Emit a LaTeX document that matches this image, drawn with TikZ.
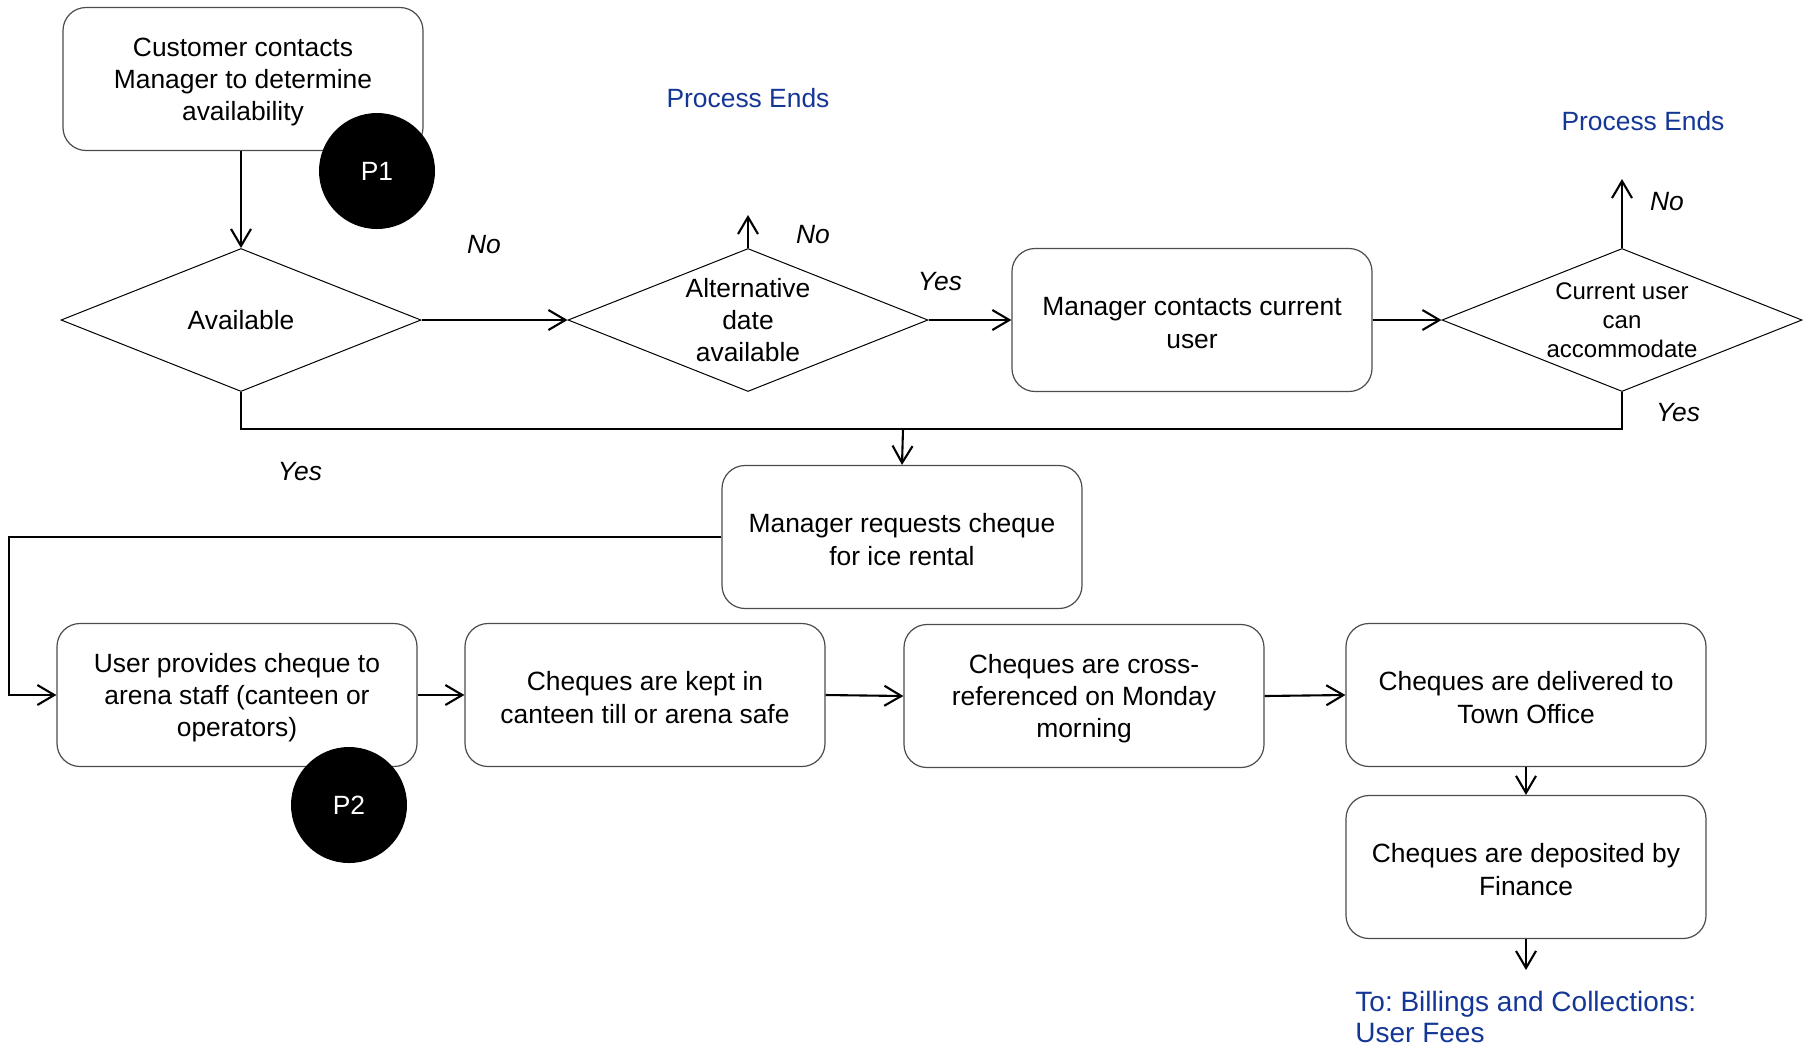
\documentclass[tikz,border=0pt]{standalone}
\usepackage{fontspec}
\setmainfont{Liberation Sans}
\usetikzlibrary{shapes.geometric,arrows.meta}
\definecolor{pblue}{RGB}{20,55,150}
\newcommand\fst{\rule{0pt}{12.3pt}}
\frenchspacing
\begin{document}
\begin{tikzpicture}[x=0.5pt,y=-0.5pt,
 proc/.style={draw=black!70,line width=0.6pt,rounded corners=11.5pt,minimum width=180pt,minimum height=71.5pt,align=center,font=\fontsize{13.2}{16.2}\selectfont,inner sep=0pt},
 dia/.style={draw,diamond,line width=0.5pt,minimum width=180pt,minimum height=71.5pt,inner sep=0pt},
 diatext/.style={align=center,font=\fontsize{13.2}{16}\selectfont},
 pin/.style={circle,fill=black,text=white,minimum size=58pt,inner sep=0pt,font=\fontsize{13.2}{16}\selectfont},
 arr/.style={line width=1.05pt,-{Straight Barb[length=8.5pt,width=10pt]}},
 con/.style={line width=1.05pt},
 lbl/.style={font=\fontsize{13.2}{16}\selectfont\itshape},
 endtxt/.style={text=pblue,font=\fontsize{13.2}{16}\selectfont}]
\useasboundingbox (0,0) rectangle (1810,1046);

% top row
\node[proc] (b1) at (243,79) {\fst Customer contacts\\Manager to determine\\availability};
\node[pin] (p1) at (377,171) {P1};
\node[dia] (d1) at (241,320) {};
\node[diatext] (t1) at (d1) {Available};
\node[dia] (d2) at (748,320) {};
\node[diatext] (t2) at (d2) {Alternative\\date\\available};
\node[proc] (b2) at (1192,320) {\fst Manager contacts current\\user};
\node[dia] (d3) at (1622,320) {};
\node[diatext,font=\fontsize{12}{14.5}\selectfont] (t3) at (d3) {Current user\\can\\accommodate};

\node[endtxt] (pe1) at (748,98) {Process Ends};
\node[endtxt] (pe2) at (1643,121) {Process Ends};
\coordinate (e1) at (748,215);
\coordinate (e2) at (1622,179);

% middle
\node[proc] (b3) at (902,537) {\fst Manager requests cheque\\for ice rental};
\coordinate (j) at (903,429);
\coordinate (c) at (9,537);

% bottom row
\node[proc] (b4) at (237,695) {\fst User provides cheque to\\arena staff (canteen or\\operators)};
\node[pin] (p2) at (349,805) {P2};
\node[proc] (b5) at (645,695) {\fst Cheques are kept in\\canteen till or arena safe};
\node[proc] (b6) at (1084,696) {\fst Cheques are cross-\\referenced on Monday\\morning};
\node[proc] (b7) at (1526,695) {\fst Cheques are delivered to\\Town Office};
\node[proc] (b8) at (1526,867) {\fst Cheques are deposited by\\Finance};
\coordinate (e3) at (1526,970);
\node[endtxt,anchor=west,align=left,font=\fontsize{14}{15.8}\selectfont,inner xsep=0pt] (to) at (1355,1017) {To: Billings and Collections:\\User Fees};

% labels
\node[lbl] (n1) at (484,245) {No};
\node[lbl] (n2) at (813,235) {No};
\node[lbl] (y1) at (940,282) {Yes};
\node[lbl] (n3) at (1667,202) {No};
\node[lbl] (y2) at (1678,413) {Yes};
\node[lbl] (y3) at (300,472) {Yes};

% connectors
\draw[arr] (d1.north |- b1.south) -- (d1.north);
\draw[arr] (d1.east) -- (d2.west);
\draw[arr] (d2.north) -- (e1);
\draw[arr] (d2.east) -- (b2.west);
\draw[arr] (b2.east) -- (d3.west);
\draw[arr] (d3.north) -- (e2);
\draw[con] (d3.south) |- (j);
\draw[con] (d1.south) |- (j);
\draw[arr] (j) -- (b3.north);
\draw[arr] (b3.west) -- (c) |- (b4.west);
\draw[arr] (b4.east) -- (b5.west);
\draw[arr] (b5.east) -- (b6.west);
\draw[arr] (b6.east) -- (b7.west);
\draw[arr] (b7.south) -- (b8.north);
\draw[arr] (b8.south) -- (e3);
\end{tikzpicture}
\end{document}
